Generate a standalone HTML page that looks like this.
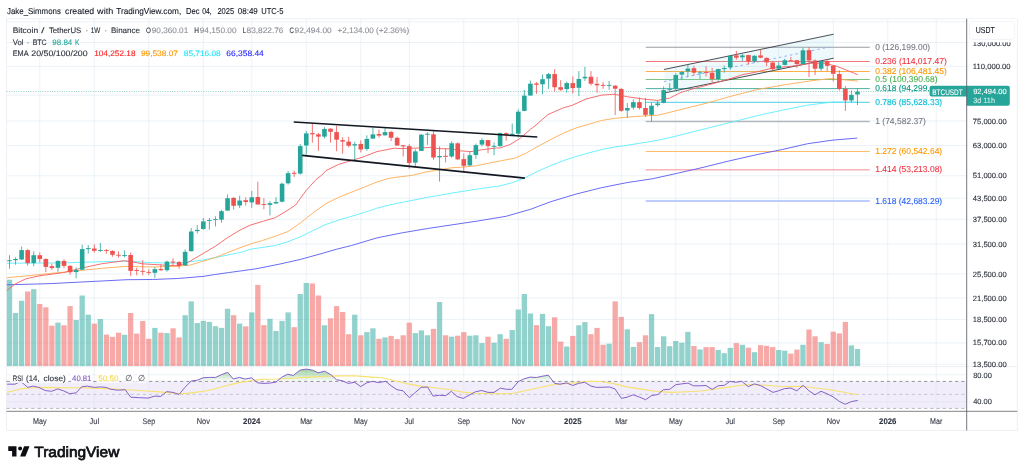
<!DOCTYPE html>
<html><head><meta charset="utf-8"><title>BTCUSDT chart</title>
<style>html,body{margin:0;padding:0;background:#fff;overflow:hidden}svg{display:block;will-change:transform;text-rendering:geometricPrecision}body{font-family:"Liberation Sans",sans-serif}</style></head>
<body>
<svg width="1024" height="473" viewBox="0 0 1024 473" font-family="'Liberation Sans', sans-serif">
<rect width="1024" height="473" fill="#fff"/>
<g stroke="#e2edf4" stroke-width="0.7" fill="none">
<path d="M39.79 18.8 V411.4"/>
<path d="M94.3 18.8 V411.4"/>
<path d="M148.81 18.8 V411.4"/>
<path d="M203.32 18.8 V411.4"/>
<path d="M251.78 18.8 V411.4"/>
<path d="M306.29 18.8 V411.4"/>
<path d="M360.81 18.8 V411.4"/>
<path d="M409.26 18.8 V411.4"/>
<path d="M463.78 18.8 V411.4"/>
<path d="M518.29 18.8 V411.4"/>
<path d="M572.8 18.8 V411.4"/>
<path d="M621.26 18.8 V411.4"/>
<path d="M675.77 18.8 V411.4"/>
<path d="M730.28 18.8 V411.4"/>
<path d="M778.74 18.8 V411.4"/>
<path d="M833.25 18.8 V411.4"/>
<path d="M887.77 18.8 V411.4"/>
<path d="M936.22 18.8 V411.4"/>
<path d="M6.5 21.8 H966.7"/>
<path d="M6.5 42.5 H966.7"/>
<path d="M6.5 66.4 H966.7"/>
<path d="M6.5 95.3 H966.7"/>
<path d="M6.5 121 H966.7"/>
<path d="M6.5 145.6 H966.7"/>
<path d="M6.5 175.7 H966.7"/>
<path d="M6.5 198.2 H966.7"/>
<path d="M6.5 219.3 H966.7"/>
<path d="M6.5 244 H966.7"/>
<path d="M6.5 273.9 H966.7"/>
<path d="M6.5 298 H966.7"/>
<path d="M6.5 319.4 H966.7"/>
<path d="M6.5 342.9 H966.7"/>
<path d="M6.5 364.3 H966.7"/>
<path d="M6.5 374.8 H966.7"/>
<path d="M6.5 401.6 H966.7"/>
</g>
<g stroke="#e6e9ef" stroke-width="0.7" fill="none">
<path d="M6.5 18.8 H1017.3 V430.4 H6.5 Z"/>
<path d="M6.5 366.6 H1017.3"/>
</g>
<g>
<rect x="6.85" y="279.7" width="5.3" height="86.3" fill="#26a69a" fill-opacity="0.5"/>
<rect x="12.91" y="313" width="5.3" height="53" fill="#26a69a" fill-opacity="0.5"/>
<rect x="18.96" y="300.8" width="5.3" height="65.2" fill="#26a69a" fill-opacity="0.5"/>
<rect x="25.02" y="291.5" width="5.3" height="74.5" fill="#ef5350" fill-opacity="0.5"/>
<rect x="31.08" y="289.2" width="5.3" height="76.8" fill="#26a69a" fill-opacity="0.5"/>
<rect x="37.14" y="304" width="5.3" height="62" fill="#ef5350" fill-opacity="0.5"/>
<rect x="43.19" y="307.3" width="5.3" height="58.7" fill="#ef5350" fill-opacity="0.5"/>
<rect x="49.25" y="325.7" width="5.3" height="40.3" fill="#ef5350" fill-opacity="0.5"/>
<rect x="55.31" y="322.6" width="5.3" height="43.4" fill="#26a69a" fill-opacity="0.5"/>
<rect x="61.36" y="325.3" width="5.3" height="40.7" fill="#ef5350" fill-opacity="0.5"/>
<rect x="67.42" y="306.1" width="5.3" height="59.9" fill="#ef5350" fill-opacity="0.5"/>
<rect x="73.48" y="320" width="5.3" height="46" fill="#26a69a" fill-opacity="0.5"/>
<rect x="79.53" y="295.5" width="5.3" height="70.5" fill="#26a69a" fill-opacity="0.5"/>
<rect x="85.59" y="314.7" width="5.3" height="51.3" fill="#26a69a" fill-opacity="0.5"/>
<rect x="91.65" y="323.6" width="5.3" height="42.4" fill="#ef5350" fill-opacity="0.5"/>
<rect x="97.7" y="319" width="5.3" height="47" fill="#26a69a" fill-opacity="0.5"/>
<rect x="103.76" y="334.6" width="5.3" height="31.4" fill="#ef5350" fill-opacity="0.5"/>
<rect x="109.82" y="336.9" width="5.3" height="29.1" fill="#ef5350" fill-opacity="0.5"/>
<rect x="115.88" y="332.7" width="5.3" height="33.3" fill="#ef5350" fill-opacity="0.5"/>
<rect x="121.93" y="334.8" width="5.3" height="31.2" fill="#26a69a" fill-opacity="0.5"/>
<rect x="127.99" y="313" width="5.3" height="53" fill="#ef5350" fill-opacity="0.5"/>
<rect x="134.05" y="333.6" width="5.3" height="32.4" fill="#ef5350" fill-opacity="0.5"/>
<rect x="140.1" y="321" width="5.3" height="45" fill="#ef5350" fill-opacity="0.5"/>
<rect x="146.16" y="338.8" width="5.3" height="27.2" fill="#ef5350" fill-opacity="0.5"/>
<rect x="152.22" y="327.9" width="5.3" height="38.1" fill="#26a69a" fill-opacity="0.5"/>
<rect x="158.28" y="332.7" width="5.3" height="33.3" fill="#ef5350" fill-opacity="0.5"/>
<rect x="164.33" y="333.1" width="5.3" height="32.9" fill="#26a69a" fill-opacity="0.5"/>
<rect x="170.39" y="328.3" width="5.3" height="37.7" fill="#ef5350" fill-opacity="0.5"/>
<rect x="176.45" y="337.4" width="5.3" height="28.6" fill="#ef5350" fill-opacity="0.5"/>
<rect x="182.5" y="315.2" width="5.3" height="50.8" fill="#26a69a" fill-opacity="0.5"/>
<rect x="188.56" y="301.4" width="5.3" height="64.6" fill="#26a69a" fill-opacity="0.5"/>
<rect x="194.62" y="323" width="5.3" height="43" fill="#26a69a" fill-opacity="0.5"/>
<rect x="200.67" y="320.9" width="5.3" height="45.1" fill="#26a69a" fill-opacity="0.5"/>
<rect x="206.73" y="321.9" width="5.3" height="44.1" fill="#26a69a" fill-opacity="0.5"/>
<rect x="212.79" y="326.2" width="5.3" height="39.8" fill="#26a69a" fill-opacity="0.5"/>
<rect x="218.84" y="327.9" width="5.3" height="38.1" fill="#26a69a" fill-opacity="0.5"/>
<rect x="224.9" y="308.8" width="5.3" height="57.2" fill="#26a69a" fill-opacity="0.5"/>
<rect x="230.96" y="315.2" width="5.3" height="50.8" fill="#ef5350" fill-opacity="0.5"/>
<rect x="237.02" y="323.6" width="5.3" height="42.4" fill="#26a69a" fill-opacity="0.5"/>
<rect x="243.07" y="326.4" width="5.3" height="39.6" fill="#ef5350" fill-opacity="0.5"/>
<rect x="249.13" y="312.4" width="5.3" height="53.6" fill="#26a69a" fill-opacity="0.5"/>
<rect x="255.19" y="284.9" width="5.3" height="81.1" fill="#ef5350" fill-opacity="0.5"/>
<rect x="261.24" y="325.1" width="5.3" height="40.9" fill="#ef5350" fill-opacity="0.5"/>
<rect x="267.3" y="318.8" width="5.3" height="47.2" fill="#26a69a" fill-opacity="0.5"/>
<rect x="273.36" y="331" width="5.3" height="35" fill="#26a69a" fill-opacity="0.5"/>
<rect x="279.42" y="320.9" width="5.3" height="45.1" fill="#26a69a" fill-opacity="0.5"/>
<rect x="285.47" y="312.4" width="5.3" height="53.6" fill="#26a69a" fill-opacity="0.5"/>
<rect x="291.53" y="327.2" width="5.3" height="38.8" fill="#ef5350" fill-opacity="0.5"/>
<rect x="297.59" y="294" width="5.3" height="72" fill="#26a69a" fill-opacity="0.5"/>
<rect x="303.64" y="283" width="5.3" height="83" fill="#26a69a" fill-opacity="0.5"/>
<rect x="309.7" y="283.5" width="5.3" height="82.5" fill="#ef5350" fill-opacity="0.5"/>
<rect x="315.76" y="295.5" width="5.3" height="70.5" fill="#ef5350" fill-opacity="0.5"/>
<rect x="321.81" y="325.3" width="5.3" height="40.7" fill="#26a69a" fill-opacity="0.5"/>
<rect x="327.87" y="318.3" width="5.3" height="47.7" fill="#ef5350" fill-opacity="0.5"/>
<rect x="333.93" y="306.1" width="5.3" height="59.9" fill="#ef5350" fill-opacity="0.5"/>
<rect x="339.99" y="312" width="5.3" height="54" fill="#ef5350" fill-opacity="0.5"/>
<rect x="346.04" y="334.2" width="5.3" height="31.8" fill="#ef5350" fill-opacity="0.5"/>
<rect x="352.1" y="314.7" width="5.3" height="51.3" fill="#26a69a" fill-opacity="0.5"/>
<rect x="358.16" y="335.3" width="5.3" height="30.7" fill="#ef5350" fill-opacity="0.5"/>
<rect x="364.21" y="332.1" width="5.3" height="33.9" fill="#26a69a" fill-opacity="0.5"/>
<rect x="370.27" y="328.3" width="5.3" height="37.7" fill="#26a69a" fill-opacity="0.5"/>
<rect x="376.33" y="338.8" width="5.3" height="27.2" fill="#ef5350" fill-opacity="0.5"/>
<rect x="382.38" y="337.4" width="5.3" height="28.6" fill="#26a69a" fill-opacity="0.5"/>
<rect x="388.44" y="335.9" width="5.3" height="30.1" fill="#ef5350" fill-opacity="0.5"/>
<rect x="394.5" y="339.1" width="5.3" height="26.9" fill="#ef5350" fill-opacity="0.5"/>
<rect x="400.56" y="335.3" width="5.3" height="30.7" fill="#ef5350" fill-opacity="0.5"/>
<rect x="406.61" y="322.6" width="5.3" height="43.4" fill="#ef5350" fill-opacity="0.5"/>
<rect x="412.67" y="333.1" width="5.3" height="32.9" fill="#26a69a" fill-opacity="0.5"/>
<rect x="418.73" y="330.4" width="5.3" height="35.6" fill="#26a69a" fill-opacity="0.5"/>
<rect x="424.78" y="335.3" width="5.3" height="30.7" fill="#26a69a" fill-opacity="0.5"/>
<rect x="430.84" y="328.9" width="5.3" height="37.1" fill="#ef5350" fill-opacity="0.5"/>
<rect x="436.9" y="302" width="5.3" height="64" fill="#26a69a" fill-opacity="0.5"/>
<rect x="442.95" y="335.3" width="5.3" height="30.7" fill="#ef5350" fill-opacity="0.5"/>
<rect x="449.01" y="336.7" width="5.3" height="29.3" fill="#26a69a" fill-opacity="0.5"/>
<rect x="455.07" y="335.7" width="5.3" height="30.3" fill="#ef5350" fill-opacity="0.5"/>
<rect x="461.13" y="332.1" width="5.3" height="33.9" fill="#ef5350" fill-opacity="0.5"/>
<rect x="467.18" y="335.7" width="5.3" height="30.3" fill="#26a69a" fill-opacity="0.5"/>
<rect x="473.24" y="335.3" width="5.3" height="30.7" fill="#26a69a" fill-opacity="0.5"/>
<rect x="479.3" y="343.1" width="5.3" height="22.9" fill="#26a69a" fill-opacity="0.5"/>
<rect x="485.35" y="336.7" width="5.3" height="29.3" fill="#ef5350" fill-opacity="0.5"/>
<rect x="491.41" y="342.7" width="5.3" height="23.3" fill="#26a69a" fill-opacity="0.5"/>
<rect x="497.47" y="334.2" width="5.3" height="31.8" fill="#26a69a" fill-opacity="0.5"/>
<rect x="503.52" y="338.8" width="5.3" height="27.2" fill="#ef5350" fill-opacity="0.5"/>
<rect x="509.58" y="330" width="5.3" height="36" fill="#26a69a" fill-opacity="0.5"/>
<rect x="515.64" y="309.5" width="5.3" height="56.5" fill="#26a69a" fill-opacity="0.5"/>
<rect x="521.7" y="294" width="5.3" height="72" fill="#26a69a" fill-opacity="0.5"/>
<rect x="527.75" y="313.5" width="5.3" height="52.5" fill="#26a69a" fill-opacity="0.5"/>
<rect x="533.81" y="325.1" width="5.3" height="40.9" fill="#ef5350" fill-opacity="0.5"/>
<rect x="539.87" y="313.9" width="5.3" height="52.1" fill="#26a69a" fill-opacity="0.5"/>
<rect x="545.92" y="326.2" width="5.3" height="39.8" fill="#26a69a" fill-opacity="0.5"/>
<rect x="551.98" y="317.3" width="5.3" height="48.7" fill="#ef5350" fill-opacity="0.5"/>
<rect x="558.04" y="341.6" width="5.3" height="24.4" fill="#ef5350" fill-opacity="0.5"/>
<rect x="564.09" y="346.5" width="5.3" height="19.5" fill="#26a69a" fill-opacity="0.5"/>
<rect x="570.15" y="335.9" width="5.3" height="30.1" fill="#ef5350" fill-opacity="0.5"/>
<rect x="576.21" y="325.3" width="5.3" height="40.7" fill="#26a69a" fill-opacity="0.5"/>
<rect x="582.27" y="322.1" width="5.3" height="43.9" fill="#26a69a" fill-opacity="0.5"/>
<rect x="588.32" y="334.2" width="5.3" height="31.8" fill="#ef5350" fill-opacity="0.5"/>
<rect x="594.38" y="327.9" width="5.3" height="38.1" fill="#ef5350" fill-opacity="0.5"/>
<rect x="600.44" y="344.8" width="5.3" height="21.2" fill="#ef5350" fill-opacity="0.5"/>
<rect x="606.49" y="343.7" width="5.3" height="22.3" fill="#26a69a" fill-opacity="0.5"/>
<rect x="612.55" y="301.4" width="5.3" height="64.6" fill="#ef5350" fill-opacity="0.5"/>
<rect x="618.61" y="316.9" width="5.3" height="49.1" fill="#ef5350" fill-opacity="0.5"/>
<rect x="624.66" y="329.3" width="5.3" height="36.7" fill="#26a69a" fill-opacity="0.5"/>
<rect x="630.72" y="346.9" width="5.3" height="19.1" fill="#26a69a" fill-opacity="0.5"/>
<rect x="636.78" y="342.2" width="5.3" height="23.8" fill="#ef5350" fill-opacity="0.5"/>
<rect x="642.84" y="335.3" width="5.3" height="30.7" fill="#ef5350" fill-opacity="0.5"/>
<rect x="648.89" y="314.1" width="5.3" height="51.9" fill="#26a69a" fill-opacity="0.5"/>
<rect x="654.95" y="347.1" width="5.3" height="18.9" fill="#26a69a" fill-opacity="0.5"/>
<rect x="661.01" y="336.3" width="5.3" height="29.7" fill="#26a69a" fill-opacity="0.5"/>
<rect x="667.06" y="346.2" width="5.3" height="19.8" fill="#26a69a" fill-opacity="0.5"/>
<rect x="673.12" y="341" width="5.3" height="25" fill="#26a69a" fill-opacity="0.5"/>
<rect x="679.18" y="342.7" width="5.3" height="23.3" fill="#26a69a" fill-opacity="0.5"/>
<rect x="685.23" y="331.9" width="5.3" height="34.1" fill="#26a69a" fill-opacity="0.5"/>
<rect x="691.29" y="346" width="5.3" height="20" fill="#ef5350" fill-opacity="0.5"/>
<rect x="697.35" y="349.4" width="5.3" height="16.6" fill="#26a69a" fill-opacity="0.5"/>
<rect x="703.41" y="347.1" width="5.3" height="18.9" fill="#ef5350" fill-opacity="0.5"/>
<rect x="709.46" y="347.1" width="5.3" height="18.9" fill="#ef5350" fill-opacity="0.5"/>
<rect x="715.52" y="350" width="5.3" height="16" fill="#26a69a" fill-opacity="0.5"/>
<rect x="721.58" y="353.2" width="5.3" height="12.8" fill="#26a69a" fill-opacity="0.5"/>
<rect x="727.63" y="347.9" width="5.3" height="18.1" fill="#26a69a" fill-opacity="0.5"/>
<rect x="733.69" y="343.1" width="5.3" height="22.9" fill="#ef5350" fill-opacity="0.5"/>
<rect x="739.75" y="344.8" width="5.3" height="21.2" fill="#26a69a" fill-opacity="0.5"/>
<rect x="745.8" y="347.7" width="5.3" height="18.3" fill="#ef5350" fill-opacity="0.5"/>
<rect x="751.86" y="352.2" width="5.3" height="13.8" fill="#26a69a" fill-opacity="0.5"/>
<rect x="757.92" y="345.2" width="5.3" height="20.8" fill="#ef5350" fill-opacity="0.5"/>
<rect x="763.98" y="345.8" width="5.3" height="20.2" fill="#ef5350" fill-opacity="0.5"/>
<rect x="770.03" y="347.1" width="5.3" height="18.9" fill="#ef5350" fill-opacity="0.5"/>
<rect x="776.09" y="350" width="5.3" height="16" fill="#26a69a" fill-opacity="0.5"/>
<rect x="782.15" y="350.7" width="5.3" height="15.3" fill="#26a69a" fill-opacity="0.5"/>
<rect x="788.2" y="353.6" width="5.3" height="12.4" fill="#ef5350" fill-opacity="0.5"/>
<rect x="794.26" y="349.6" width="5.3" height="16.4" fill="#ef5350" fill-opacity="0.5"/>
<rect x="800.32" y="344.8" width="5.3" height="21.2" fill="#26a69a" fill-opacity="0.5"/>
<rect x="806.37" y="329.5" width="5.3" height="36.5" fill="#ef5350" fill-opacity="0.5"/>
<rect x="812.43" y="336.3" width="5.3" height="29.7" fill="#ef5350" fill-opacity="0.5"/>
<rect x="818.49" y="342.2" width="5.3" height="23.8" fill="#26a69a" fill-opacity="0.5"/>
<rect x="824.55" y="343.9" width="5.3" height="22.1" fill="#ef5350" fill-opacity="0.5"/>
<rect x="830.6" y="331.7" width="5.3" height="34.3" fill="#ef5350" fill-opacity="0.5"/>
<rect x="836.66" y="333.4" width="5.3" height="32.6" fill="#ef5350" fill-opacity="0.5"/>
<rect x="842.72" y="321.9" width="5.3" height="44.1" fill="#ef5350" fill-opacity="0.5"/>
<rect x="848.77" y="345.4" width="5.3" height="20.6" fill="#26a69a" fill-opacity="0.5"/>
<rect x="854.83" y="349" width="5.3" height="17" fill="#26a69a" fill-opacity="0.5"/>
</g>
<path d="M645.7 47.2 H869.8" stroke="#9a9da6" stroke-width="1.1"/>
<path d="M645.7 61.5 H869.8" stroke="#f26a70" stroke-width="0.9"/>
<path d="M645.7 71.5 H869.8" stroke="#ffa534" stroke-width="0.9"/>
<path d="M645.7 79.5 H869.8" stroke="#6dbd71" stroke-width="0.9"/>
<path d="M645.7 88.6 H869.8" stroke="#3aa898" stroke-width="0.9"/>
<path d="M645.7 102.3 H869.8" stroke="#3cc8dc" stroke-width="0.9"/>
<path d="M645.7 121.6 H869.8" stroke="#b5b7be" stroke-width="1.5"/>
<path d="M645.7 151.5 H869.8" stroke="#ffb75a" stroke-width="0.9"/>
<path d="M645.7 169.8 H869.8" stroke="#f8b4b8" stroke-width="1.6"/>
<path d="M645.7 201 H869.8" stroke="#a9bcff" stroke-width="1.6"/>
<polygon points="663.9,69.5 833.7,34.2 833.7,58.2 665.8,92.7" fill="#7fcfe6" fill-opacity="0.13"/>
<path d="M663.9 81.6 L828.9 47.1" stroke="#7d97ff" stroke-width="0.8" stroke-dasharray="2.4 3.2" fill="none"/>
<path d="M663.9 69.5 L833.7 34.2 M665.8 92.7 L833.7 58.2" stroke="#2a2e39" stroke-width="0.85" fill="none"/>
<polyline points="6.85,284.8 50.8,283.6 76.1,282.3 101.5,281 127,279.7 152.3,279.5 177.7,278.5 203,276.4 215.7,274.4 228.4,272.6 241.1,270.9 256,268.8 280,264 300,259.5 320,254 336.3,249.3 351.5,245.5 376.9,237.9 402.3,232.8 427.7,228.5 453,224.7 478.4,220.9 506,216.3 530.5,209.3 550.8,201.7 576,194.1 601.5,187.7 627,182.6 652.3,178.8 677.7,173.2 703,167.4 728.4,161.1 757,154.6 782.3,149.5 807.7,143.7 833,140.1 857.2,138.1" fill="none" stroke="#5a5af5" stroke-width="0.9" stroke-linejoin="round"/>
<polyline points="6.85,263.2 50.8,263 76.1,262.5 101.5,261.7 127,261.2 152.3,262.7 177.7,263.2 190.4,261.7 203,260 215.7,257.4 228.4,254.9 241.1,252.3 250,249.3 275.4,245.5 288,241.7 300.8,236.6 313.5,230.3 326,224.4 338.8,220.1 351.5,216.3 364.2,212.5 376.9,208.2 389.6,204.9 402.3,202.3 427.7,197.3 453,192.9 478.4,188.9 500,185.9 512.7,182.6 525.4,177.6 538,171.2 550.8,165.6 563.5,160.6 576,156.5 588.8,152.9 601.5,149.6 614.2,147.1 627,145.3 639.6,143.3 652.3,141.3 665,138.7 677.7,135.7 703,129.3 728.4,123 757,115.7 782.3,110.2 807.7,105.1 833,102 857.5,102.2" fill="none" stroke="#5ceeff" stroke-width="0.9" stroke-linejoin="round"/>
<polyline points="6.85,277.7 25.4,276 50.8,273.4 76.1,270.9 101.5,268.3 127,266.3 152.3,267 177.7,266.3 190.4,265 203,261.2 215.7,257.4 228.4,252.3 241.1,247.3 250,244.2 262.7,240.4 275.4,236.1 288,231.5 300.8,222.6 313.5,212.5 326,203.6 338.8,197.3 351.5,192.2 364.2,187.1 376.9,182 389.6,178.2 400,176.8 412.7,175.3 425.4,172.1 438,170 450.8,167.9 463.5,167 476,165.8 488.8,163.2 501.5,160.7 515.2,158 525.4,153.5 538,146.3 550.8,139.5 563.5,133.1 576,128 588.8,124.2 601.5,120.5 614.2,118.4 627.7,117.1 645.5,115.8 658.1,115.2 675.9,110.8 691.1,107 708.9,102.5 726.7,97.4 743,93.2 756.6,89.6 785.8,84.6 811,80.8 830,78.6 842.9,79.7 857.8,81" fill="none" stroke="#ffab52" stroke-width="0.9" stroke-linejoin="round"/>
<polyline points="6.85,290.4 15.2,284 25.4,279 38,276 63.5,272.6 83.8,267.6 101.5,263.8 124.4,260.7 132,261.7 142,263.8 162.4,265 177.7,265.8 187.8,262.5 203,253.6 215.7,246 228.4,237.1 241.1,229.5 250,225.2 262.7,221.4 275.4,217.6 288,210 295.7,204.9 305.8,190.9 316,179.5 321.9,175 326,170.6 338.8,164.3 354.5,159.7 364.2,156.6 376.9,151.6 394.2,148.2 400,148.6 419,148 430.5,147.4 438,148.6 450.8,148.9 461,150.9 471,151.6 482.5,149.7 496.4,148 500,147.9 510,144.6 520.3,138.2 530.5,129.3 536,125 548,114.5 563.5,107.8 572,105.4 586,99 601.4,95.2 614,94.2 627.7,96.8 645.5,99.3 657.5,100.4 669.6,98.1 681,92.4 693.7,88.6 711.4,84.1 729.2,79 743,74.6 754,72.5 773,68 792,66.2 811,63.2 824,63.2 836.5,66.2 849.2,71.2 857.8,74.7" fill="none" stroke="#f56060" stroke-width="0.9" stroke-linejoin="round"/>
<path d="M6.5 91.4 H966.7" stroke="#26a69a" stroke-width="0.8" stroke-dasharray="1 1.4" opacity="0.75"/>
<g>
<path d="M9.5 255.2 V268.8" stroke="#26a69a" stroke-width="0.8"/>
<rect x="7.2" y="260.2" width="4.6" height="1" fill="#26a69a"/>
<path d="M15.56 257.4 V264.7" stroke="#26a69a" stroke-width="0.8"/>
<rect x="13.26" y="259" width="4.6" height="1.2" fill="#26a69a"/>
<path d="M21.61 246.6 V259.9" stroke="#26a69a" stroke-width="0.8"/>
<rect x="19.31" y="250.1" width="4.6" height="9.4" fill="#26a69a"/>
<path d="M27.67 249.1 V265.6" stroke="#ef5350" stroke-width="0.8"/>
<rect x="25.37" y="250.1" width="4.6" height="13" fill="#ef5350"/>
<path d="M33.73 251.3 V266.2" stroke="#26a69a" stroke-width="0.8"/>
<rect x="31.43" y="255.2" width="4.6" height="7.9" fill="#26a69a"/>
<path d="M39.79 252.3 V262.4" stroke="#ef5350" stroke-width="0.8"/>
<rect x="37.49" y="255.2" width="4.6" height="3.8" fill="#ef5350"/>
<path d="M45.84 258.2 V272.2" stroke="#ef5350" stroke-width="0.8"/>
<rect x="43.54" y="259" width="4.6" height="7.9" fill="#ef5350"/>
<path d="M51.9 263.7 V269.7" stroke="#ef5350" stroke-width="0.8"/>
<rect x="49.6" y="266.2" width="4.6" height="1.9" fill="#ef5350"/>
<path d="M57.96 260.3 V271.7" stroke="#26a69a" stroke-width="0.8"/>
<rect x="55.66" y="260.9" width="4.6" height="6.9" fill="#26a69a"/>
<path d="M64.01 259.3 V268.1" stroke="#ef5350" stroke-width="0.8"/>
<rect x="61.71" y="260.9" width="4.6" height="5" fill="#ef5350"/>
<path d="M70.07 265 V274.7" stroke="#ef5350" stroke-width="0.8"/>
<rect x="67.77" y="265.9" width="4.6" height="6.3" fill="#ef5350"/>
<path d="M76.13 267.5 V278.3" stroke="#26a69a" stroke-width="0.8"/>
<rect x="73.83" y="270.1" width="4.6" height="1.9" fill="#26a69a"/>
<path d="M82.18 244.7 V270.1" stroke="#26a69a" stroke-width="0.8"/>
<rect x="79.88" y="249.1" width="4.6" height="20.6" fill="#26a69a"/>
<path d="M88.24 245.1 V253.6" stroke="#26a69a" stroke-width="0.8"/>
<rect x="85.94" y="248.1" width="4.6" height="1" fill="#26a69a"/>
<path d="M94.3 244.3 V252.7" stroke="#ef5350" stroke-width="0.8"/>
<rect x="92" y="248.5" width="4.6" height="2.3" fill="#ef5350"/>
<path d="M100.36 243.1 V251.9" stroke="#26a69a" stroke-width="0.8"/>
<rect x="98.06" y="250.1" width="4.6" height="0.9" fill="#26a69a"/>
<path d="M106.41 249.1 V253.6" stroke="#ef5350" stroke-width="0.8"/>
<rect x="104.11" y="250.1" width="4.6" height="0.9" fill="#ef5350"/>
<path d="M112.47 250.4 V256.7" stroke="#ef5350" stroke-width="0.8"/>
<rect x="110.17" y="250.9" width="4.6" height="3.9" fill="#ef5350"/>
<path d="M118.53 251.4 V257.7" stroke="#ef5350" stroke-width="0.8"/>
<rect x="116.23" y="254.8" width="4.6" height="0.9" fill="#ef5350"/>
<path d="M124.58 250.4 V257.4" stroke="#26a69a" stroke-width="0.8"/>
<rect x="122.28" y="255.1" width="4.6" height="0.9" fill="#26a69a"/>
<path d="M130.64 252.5 V275.9" stroke="#ef5350" stroke-width="0.8"/>
<rect x="128.34" y="255" width="4.6" height="15.9" fill="#ef5350"/>
<path d="M136.7 267.7 V275.3" stroke="#ef5350" stroke-width="0.8"/>
<rect x="134.4" y="270" width="4.6" height="0.9" fill="#ef5350"/>
<path d="M142.75 260.1 V275.3" stroke="#ef5350" stroke-width="0.8"/>
<rect x="140.45" y="270.9" width="4.6" height="0.9" fill="#ef5350"/>
<path d="M148.81 269.2 V275" stroke="#ef5350" stroke-width="0.8"/>
<rect x="146.51" y="271.9" width="4.6" height="0.9" fill="#ef5350"/>
<path d="M154.87 267.1 V277.8" stroke="#26a69a" stroke-width="0.8"/>
<rect x="152.57" y="269.2" width="4.6" height="3.6" fill="#26a69a"/>
<path d="M160.93 264.5 V270.9" stroke="#ef5350" stroke-width="0.8"/>
<rect x="158.62" y="269" width="4.6" height="1.2" fill="#ef5350"/>
<path d="M166.98 260.7 V271.7" stroke="#26a69a" stroke-width="0.8"/>
<rect x="164.68" y="261.6" width="4.6" height="8.6" fill="#26a69a"/>
<path d="M173.04 258.2 V265.1" stroke="#ef5350" stroke-width="0.8"/>
<rect x="170.74" y="261.6" width="4.6" height="1" fill="#ef5350"/>
<path d="M179.1 261.1 V268.7" stroke="#ef5350" stroke-width="0.8"/>
<rect x="176.8" y="262" width="4.6" height="3.8" fill="#ef5350"/>
<path d="M185.15 249.3 V265.8" stroke="#26a69a" stroke-width="0.8"/>
<rect x="182.85" y="251.8" width="4.6" height="13.6" fill="#26a69a"/>
<path d="M191.21 228.1 V251.4" stroke="#26a69a" stroke-width="0.8"/>
<rect x="188.91" y="231.5" width="4.6" height="19.7" fill="#26a69a"/>
<path d="M197.27 225.2 V233.4" stroke="#26a69a" stroke-width="0.8"/>
<rect x="194.97" y="229.9" width="4.6" height="1.2" fill="#26a69a"/>
<path d="M203.32 218 V229.6" stroke="#26a69a" stroke-width="0.8"/>
<rect x="201.02" y="221.4" width="4.6" height="7.6" fill="#26a69a"/>
<path d="M209.38 218 V229.6" stroke="#26a69a" stroke-width="0.8"/>
<rect x="207.08" y="220.1" width="4.6" height="0.9" fill="#26a69a"/>
<path d="M215.44 216.3 V226.5" stroke="#26a69a" stroke-width="0.8"/>
<rect x="213.14" y="219" width="4.6" height="0.9" fill="#26a69a"/>
<path d="M221.5 210 V222.7" stroke="#26a69a" stroke-width="0.8"/>
<rect x="219.19" y="211.2" width="4.6" height="8.5" fill="#26a69a"/>
<path d="M227.55 194.4 V210.9" stroke="#26a69a" stroke-width="0.8"/>
<rect x="225.25" y="198.2" width="4.6" height="12.4" fill="#26a69a"/>
<path d="M233.61 196.9 V209.6" stroke="#ef5350" stroke-width="0.8"/>
<rect x="231.31" y="197.9" width="4.6" height="7.9" fill="#ef5350"/>
<path d="M239.67 195.8 V208.1" stroke="#26a69a" stroke-width="0.8"/>
<rect x="237.37" y="200.5" width="4.6" height="5" fill="#26a69a"/>
<path d="M245.72 197.3 V205.5" stroke="#ef5350" stroke-width="0.8"/>
<rect x="243.42" y="200.2" width="4.6" height="1.8" fill="#ef5350"/>
<path d="M251.78 190.9 V207.8" stroke="#26a69a" stroke-width="0.8"/>
<rect x="249.48" y="197.3" width="4.6" height="5.1" fill="#26a69a"/>
<path d="M257.84 181.7 V204.5" stroke="#ef5350" stroke-width="0.8"/>
<rect x="255.54" y="197" width="4.6" height="7.5" fill="#ef5350"/>
<path d="M263.89 198.2 V209.3" stroke="#ef5350" stroke-width="0.8"/>
<rect x="261.59" y="204" width="4.6" height="0.9" fill="#ef5350"/>
<path d="M269.95 201.1 V215.4" stroke="#26a69a" stroke-width="0.8"/>
<rect x="267.65" y="203.2" width="4.6" height="1.7" fill="#26a69a"/>
<path d="M276.01 197.3 V203.6" stroke="#26a69a" stroke-width="0.8"/>
<rect x="273.71" y="202" width="4.6" height="1.5" fill="#26a69a"/>
<path d="M282.06 182.7 V202.4" stroke="#26a69a" stroke-width="0.8"/>
<rect x="279.76" y="183.7" width="4.6" height="18" fill="#26a69a"/>
<path d="M288.12 171 V184.6" stroke="#26a69a" stroke-width="0.8"/>
<rect x="285.82" y="173.2" width="4.6" height="10.1" fill="#26a69a"/>
<path d="M294.18 170.6 V177" stroke="#ef5350" stroke-width="0.8"/>
<rect x="291.88" y="172.8" width="4.6" height="1" fill="#ef5350"/>
<path d="M300.24 143.9 V174.6" stroke="#26a69a" stroke-width="0.8"/>
<rect x="297.94" y="146.1" width="4.6" height="27.5" fill="#26a69a"/>
<path d="M306.29 130.9 V154.6" stroke="#26a69a" stroke-width="0.8"/>
<rect x="303.99" y="133.4" width="4.6" height="12.1" fill="#26a69a"/>
<path d="M312.35 123.6 V142.7" stroke="#ef5350" stroke-width="0.8"/>
<rect x="310.05" y="133.1" width="4.6" height="1.2" fill="#ef5350"/>
<path d="M318.41 133 V150.8" stroke="#ef5350" stroke-width="0.8"/>
<rect x="316.11" y="134.3" width="4.6" height="2.3" fill="#ef5350"/>
<path d="M324.46 127.1 V138.5" stroke="#26a69a" stroke-width="0.8"/>
<rect x="322.16" y="129" width="4.6" height="7.6" fill="#26a69a"/>
<path d="M330.52 128.3 V142.7" stroke="#ef5350" stroke-width="0.8"/>
<rect x="328.22" y="128.7" width="4.6" height="3.1" fill="#ef5350"/>
<path d="M336.58 125.8 V151.2" stroke="#ef5350" stroke-width="0.8"/>
<rect x="334.28" y="132.1" width="4.6" height="7.6" fill="#ef5350"/>
<path d="M342.64 137.2 V153.7" stroke="#ef5350" stroke-width="0.8"/>
<rect x="340.34" y="140.1" width="4.6" height="1.5" fill="#ef5350"/>
<path d="M348.69 136.8 V147.4" stroke="#ef5350" stroke-width="0.8"/>
<rect x="346.39" y="141.6" width="4.6" height="4.1" fill="#ef5350"/>
<path d="M354.75 141.9 V160.7" stroke="#26a69a" stroke-width="0.8"/>
<rect x="352.45" y="144.2" width="4.6" height="1.3" fill="#26a69a"/>
<path d="M360.81 140.4 V152.4" stroke="#ef5350" stroke-width="0.8"/>
<rect x="358.51" y="143.9" width="4.6" height="5.6" fill="#ef5350"/>
<path d="M366.86 135.3 V150.8" stroke="#26a69a" stroke-width="0.8"/>
<rect x="364.56" y="138.9" width="4.6" height="10.1" fill="#26a69a"/>
<path d="M372.92 127.7 V138.9" stroke="#26a69a" stroke-width="0.8"/>
<rect x="370.62" y="134.4" width="4.6" height="4.2" fill="#26a69a"/>
<path d="M378.98 129.6 V137.6" stroke="#ef5350" stroke-width="0.8"/>
<rect x="376.68" y="134" width="4.6" height="1.6" fill="#ef5350"/>
<path d="M385.03 127.7 V135.6" stroke="#26a69a" stroke-width="0.8"/>
<rect x="382.73" y="132.1" width="4.6" height="3.2" fill="#26a69a"/>
<path d="M391.09 130.9 V141" stroke="#ef5350" stroke-width="0.8"/>
<rect x="388.79" y="131.9" width="4.6" height="5.9" fill="#ef5350"/>
<path d="M397.15 136.6 V145.7" stroke="#ef5350" stroke-width="0.8"/>
<rect x="394.85" y="137.8" width="4.6" height="7.7" fill="#ef5350"/>
<path d="M403.21 145.1 V156.5" stroke="#ef5350" stroke-width="0.8"/>
<rect x="400.91" y="145.2" width="4.6" height="1.2" fill="#ef5350"/>
<path d="M409.26 144.2 V168.7" stroke="#ef5350" stroke-width="0.8"/>
<rect x="406.96" y="146.1" width="4.6" height="16.8" fill="#ef5350"/>
<path d="M415.32 149.3 V166.7" stroke="#26a69a" stroke-width="0.8"/>
<rect x="413.02" y="151.4" width="4.6" height="11.2" fill="#26a69a"/>
<path d="M421.38 134.1 V150.9" stroke="#26a69a" stroke-width="0.8"/>
<rect x="419.08" y="134.7" width="4.6" height="16.2" fill="#26a69a"/>
<path d="M427.43 132.2 V144.8" stroke="#26a69a" stroke-width="0.8"/>
<rect x="425.13" y="133.8" width="4.6" height="0.9" fill="#26a69a"/>
<path d="M433.49 131.1 V159.8" stroke="#ef5350" stroke-width="0.8"/>
<rect x="431.19" y="134.3" width="4.6" height="23.2" fill="#ef5350"/>
<path d="M439.55 146.4 V181.6" stroke="#26a69a" stroke-width="0.8"/>
<rect x="437.25" y="156" width="4.6" height="1.3" fill="#26a69a"/>
<path d="M445.6 148.4 V162.4" stroke="#ef5350" stroke-width="0.8"/>
<rect x="443.3" y="155.8" width="4.6" height="1" fill="#ef5350"/>
<path d="M451.66 141.3 V157.8" stroke="#26a69a" stroke-width="0.8"/>
<rect x="449.36" y="143.3" width="4.6" height="13.2" fill="#26a69a"/>
<path d="M457.72 142.3 V159.8" stroke="#ef5350" stroke-width="0.8"/>
<rect x="455.42" y="143.3" width="4.6" height="16.1" fill="#ef5350"/>
<path d="M463.78 153.5 V171.2" stroke="#ef5350" stroke-width="0.8"/>
<rect x="461.48" y="159.1" width="4.6" height="6.7" fill="#ef5350"/>
<path d="M469.83 151.4 V166.2" stroke="#26a69a" stroke-width="0.8"/>
<rect x="467.53" y="155.2" width="4.6" height="10.2" fill="#26a69a"/>
<path d="M475.89 143.6 V158.8" stroke="#26a69a" stroke-width="0.8"/>
<rect x="473.59" y="145.1" width="4.6" height="9.9" fill="#26a69a"/>
<path d="M481.95 138.2 V146.4" stroke="#26a69a" stroke-width="0.8"/>
<rect x="479.65" y="140.1" width="4.6" height="4.5" fill="#26a69a"/>
<path d="M488 139.8 V153.1" stroke="#ef5350" stroke-width="0.8"/>
<rect x="485.7" y="140.1" width="4.6" height="6" fill="#ef5350"/>
<path d="M494.06 142.3 V155.2" stroke="#26a69a" stroke-width="0.8"/>
<rect x="491.76" y="145.9" width="4.6" height="0.9" fill="#26a69a"/>
<path d="M500.12 132.4 V146.7" stroke="#26a69a" stroke-width="0.8"/>
<rect x="497.82" y="133.2" width="4.6" height="12.9" fill="#26a69a"/>
<path d="M506.17 132.2 V140.8" stroke="#ef5350" stroke-width="0.8"/>
<rect x="503.87" y="133.2" width="4.6" height="1.5" fill="#ef5350"/>
<path d="M512.23 123.5 V135.7" stroke="#26a69a" stroke-width="0.8"/>
<rect x="509.93" y="133.8" width="4.6" height="1.1" fill="#26a69a"/>
<path d="M518.29 109.4 V137.5" stroke="#26a69a" stroke-width="0.8"/>
<rect x="515.99" y="111.7" width="4.6" height="22" fill="#26a69a"/>
<path d="M524.35 90.1 V111.3" stroke="#26a69a" stroke-width="0.8"/>
<rect x="522.05" y="95.7" width="4.6" height="15.2" fill="#26a69a"/>
<path d="M530.4 80.5 V95.7" stroke="#26a69a" stroke-width="0.8"/>
<rect x="528.1" y="83.7" width="4.6" height="11.8" fill="#26a69a"/>
<path d="M536.46 82.1 V93.9" stroke="#ef5350" stroke-width="0.8"/>
<rect x="534.16" y="83.4" width="4.6" height="1.3" fill="#ef5350"/>
<path d="M542.52 74.5 V94.2" stroke="#26a69a" stroke-width="0.8"/>
<rect x="540.22" y="79.2" width="4.6" height="5.1" fill="#26a69a"/>
<path d="M548.57 72.9 V88.9" stroke="#26a69a" stroke-width="0.8"/>
<rect x="546.27" y="74.1" width="4.6" height="4.5" fill="#26a69a"/>
<path d="M554.63 69.1 V91.6" stroke="#ef5350" stroke-width="0.8"/>
<rect x="552.33" y="74.1" width="4.6" height="13.1" fill="#ef5350"/>
<path d="M560.69 80.2 V91" stroke="#ef5350" stroke-width="0.8"/>
<rect x="558.39" y="87.2" width="4.6" height="2.5" fill="#ef5350"/>
<path d="M566.74 81.5 V92.7" stroke="#26a69a" stroke-width="0.8"/>
<rect x="564.44" y="83.1" width="4.6" height="6" fill="#26a69a"/>
<path d="M572.8 76.4 V93.6" stroke="#ef5350" stroke-width="0.8"/>
<rect x="570.5" y="83.1" width="4.6" height="5" fill="#ef5350"/>
<path d="M578.86 71.1 V96.1" stroke="#26a69a" stroke-width="0.8"/>
<rect x="576.56" y="79" width="4.6" height="8.8" fill="#26a69a"/>
<path d="M584.92 66.9 V80.9" stroke="#26a69a" stroke-width="0.8"/>
<rect x="582.62" y="76.8" width="4.6" height="1.5" fill="#26a69a"/>
<path d="M590.97 71.1 V85.6" stroke="#ef5350" stroke-width="0.8"/>
<rect x="588.67" y="76.7" width="4.6" height="7" fill="#ef5350"/>
<path d="M597.03 77.1 V92.7" stroke="#ef5350" stroke-width="0.8"/>
<rect x="594.73" y="83.8" width="4.6" height="1.5" fill="#ef5350"/>
<path d="M603.09 82.1 V88.9" stroke="#ef5350" stroke-width="0.8"/>
<rect x="600.79" y="84.9" width="4.6" height="0.9" fill="#ef5350"/>
<path d="M609.14 80.9 V89.7" stroke="#26a69a" stroke-width="0.8"/>
<rect x="606.84" y="84.9" width="4.6" height="0.9" fill="#26a69a"/>
<path d="M615.2 85.1 V115.1" stroke="#ef5350" stroke-width="0.8"/>
<rect x="612.9" y="85.7" width="4.6" height="3" fill="#ef5350"/>
<path d="M621.26 88.2 V111.8" stroke="#ef5350" stroke-width="0.8"/>
<rect x="618.96" y="88.9" width="4.6" height="21.9" fill="#ef5350"/>
<path d="M627.31 103.1 V117.7" stroke="#26a69a" stroke-width="0.8"/>
<rect x="625.01" y="108" width="4.6" height="2.5" fill="#26a69a"/>
<path d="M633.37 99.3 V109.7" stroke="#26a69a" stroke-width="0.8"/>
<rect x="631.07" y="102.1" width="4.6" height="5.5" fill="#26a69a"/>
<path d="M639.43 97.4 V109.5" stroke="#ef5350" stroke-width="0.8"/>
<rect x="637.13" y="102.1" width="4.6" height="5.9" fill="#ef5350"/>
<path d="M645.49 97.8 V116.9" stroke="#ef5350" stroke-width="0.8"/>
<rect x="643.19" y="108" width="4.6" height="6.8" fill="#ef5350"/>
<path d="M651.54 102.5 V121.6" stroke="#26a69a" stroke-width="0.8"/>
<rect x="649.24" y="105.7" width="4.6" height="9.1" fill="#26a69a"/>
<path d="M657.6 100.6 V106.7" stroke="#26a69a" stroke-width="0.8"/>
<rect x="655.3" y="103.5" width="4.6" height="1.6" fill="#26a69a"/>
<path d="M663.66 86.4 V103.4" stroke="#26a69a" stroke-width="0.8"/>
<rect x="661.36" y="90.1" width="4.6" height="12.7" fill="#26a69a"/>
<path d="M669.71 83.1 V91.7" stroke="#26a69a" stroke-width="0.8"/>
<rect x="667.41" y="89.2" width="4.6" height="0.9" fill="#26a69a"/>
<path d="M675.77 73.3 V91.1" stroke="#26a69a" stroke-width="0.8"/>
<rect x="673.47" y="75" width="4.6" height="13.6" fill="#26a69a"/>
<path d="M681.83 71.2 V79.7" stroke="#26a69a" stroke-width="0.8"/>
<rect x="679.53" y="72.1" width="4.6" height="2.5" fill="#26a69a"/>
<path d="M687.88 64.4 V77.1" stroke="#26a69a" stroke-width="0.8"/>
<rect x="685.58" y="68.6" width="4.6" height="2.8" fill="#26a69a"/>
<path d="M693.94 65.7 V75.9" stroke="#ef5350" stroke-width="0.8"/>
<rect x="691.64" y="68.2" width="4.6" height="4.5" fill="#ef5350"/>
<path d="M700 71.2 V79" stroke="#26a69a" stroke-width="0.8"/>
<rect x="697.7" y="72.4" width="4.6" height="0.9" fill="#26a69a"/>
<path d="M706.06 66.1 V76.5" stroke="#ef5350" stroke-width="0.8"/>
<rect x="703.76" y="72.1" width="4.6" height="0.9" fill="#ef5350"/>
<path d="M712.11 67.9 V82.6" stroke="#ef5350" stroke-width="0.8"/>
<rect x="709.81" y="72.7" width="4.6" height="6.3" fill="#ef5350"/>
<path d="M718.17 68.6 V80.6" stroke="#26a69a" stroke-width="0.8"/>
<rect x="715.87" y="69.1" width="4.6" height="9.9" fill="#26a69a"/>
<path d="M724.23 65.7 V72.7" stroke="#26a69a" stroke-width="0.8"/>
<rect x="721.93" y="68" width="4.6" height="0.9" fill="#26a69a"/>
<path d="M730.28 55.1 V69.7" stroke="#26a69a" stroke-width="0.8"/>
<rect x="727.98" y="56" width="4.6" height="11.4" fill="#26a69a"/>
<path d="M736.34 50.9 V59.8" stroke="#ef5350" stroke-width="0.8"/>
<rect x="734.04" y="55.4" width="4.6" height="2.3" fill="#ef5350"/>
<path d="M742.4 54.1 V61.1" stroke="#26a69a" stroke-width="0.8"/>
<rect x="740.1" y="55.4" width="4.6" height="1.9" fill="#26a69a"/>
<path d="M748.45 54.7 V64.5" stroke="#ef5350" stroke-width="0.8"/>
<rect x="746.15" y="55.1" width="4.6" height="6.4" fill="#ef5350"/>
<path d="M754.51 55.1 V63" stroke="#26a69a" stroke-width="0.8"/>
<rect x="752.21" y="55.8" width="4.6" height="5.3" fill="#26a69a"/>
<path d="M760.57 49.7 V58.2" stroke="#ef5350" stroke-width="0.8"/>
<rect x="758.27" y="55.4" width="4.6" height="2.3" fill="#ef5350"/>
<path d="M766.62 57.3 V66.2" stroke="#ef5350" stroke-width="0.8"/>
<rect x="764.33" y="57.9" width="4.6" height="4.5" fill="#ef5350"/>
<path d="M772.68 61.7 V70" stroke="#ef5350" stroke-width="0.8"/>
<rect x="770.38" y="62.6" width="4.6" height="6.5" fill="#ef5350"/>
<path d="M778.74 62.4 V69.3" stroke="#26a69a" stroke-width="0.8"/>
<rect x="776.44" y="65.5" width="4.6" height="3.2" fill="#26a69a"/>
<path d="M784.8 58.6 V65.5" stroke="#26a69a" stroke-width="0.8"/>
<rect x="782.5" y="60.2" width="4.6" height="4.7" fill="#26a69a"/>
<path d="M790.85 56.9 V61.5" stroke="#ef5350" stroke-width="0.8"/>
<rect x="788.55" y="60.2" width="4.6" height="0.9" fill="#ef5350"/>
<path d="M796.91 59.8 V68.1" stroke="#ef5350" stroke-width="0.8"/>
<rect x="794.61" y="60.2" width="4.6" height="3.8" fill="#ef5350"/>
<path d="M802.97 47.8 V64.5" stroke="#26a69a" stroke-width="0.8"/>
<rect x="800.67" y="50.3" width="4.6" height="13.7" fill="#26a69a"/>
<path d="M809.02 47.1 V77" stroke="#ef5350" stroke-width="0.8"/>
<rect x="806.72" y="50.1" width="4.6" height="10.4" fill="#ef5350"/>
<path d="M815.08 59.4 V75.1" stroke="#ef5350" stroke-width="0.8"/>
<rect x="812.78" y="60.5" width="4.6" height="8.2" fill="#ef5350"/>
<path d="M821.14 60.5 V70.9" stroke="#26a69a" stroke-width="0.8"/>
<rect x="818.84" y="61.1" width="4.6" height="7.6" fill="#26a69a"/>
<path d="M827.2 59.2 V71.2" stroke="#ef5350" stroke-width="0.8"/>
<rect x="824.9" y="61.1" width="4.6" height="4.7" fill="#ef5350"/>
<path d="M833.25 65.3 V81.4" stroke="#ef5350" stroke-width="0.8"/>
<rect x="830.95" y="65.8" width="4.6" height="8" fill="#ef5350"/>
<path d="M839.31 70.2 V90.5" stroke="#ef5350" stroke-width="0.8"/>
<rect x="837.01" y="74" width="4.6" height="14.9" fill="#ef5350"/>
<path d="M845.37 86 V111" stroke="#ef5350" stroke-width="0.8"/>
<rect x="843.07" y="88.9" width="4.6" height="11.5" fill="#ef5350"/>
<path d="M851.42 90.5 V102.5" stroke="#26a69a" stroke-width="0.8"/>
<rect x="849.12" y="94.9" width="4.6" height="5.5" fill="#26a69a"/>
<path d="M857.48 88.6 V105" stroke="#26a69a" stroke-width="0.8"/>
<rect x="855.18" y="91.7" width="4.6" height="2.8" fill="#26a69a"/>
</g>
<path d="M293.7 122 L537.3 137 M302.2 155.4 L524.9 178.1" stroke="#131722" stroke-width="1.6" fill="none"/>
<rect x="6.5" y="381.4" width="960.2" height="27" fill="#f1edfa"/>
<g stroke="#e3e6f2" stroke-width="0.7">
<path d="M39.79 381.4 V408.4"/>
<path d="M94.3 381.4 V408.4"/>
<path d="M148.81 381.4 V408.4"/>
<path d="M203.32 381.4 V408.4"/>
<path d="M251.78 381.4 V408.4"/>
<path d="M306.29 381.4 V408.4"/>
<path d="M360.81 381.4 V408.4"/>
<path d="M409.26 381.4 V408.4"/>
<path d="M463.78 381.4 V408.4"/>
<path d="M518.29 381.4 V408.4"/>
<path d="M572.8 381.4 V408.4"/>
<path d="M621.26 381.4 V408.4"/>
<path d="M675.77 381.4 V408.4"/>
<path d="M730.28 381.4 V408.4"/>
<path d="M778.74 381.4 V408.4"/>
<path d="M833.25 381.4 V408.4"/>
<path d="M887.77 381.4 V408.4"/>
<path d="M936.22 381.4 V408.4"/>
<path d="M6.5 401.6 H966.7"/>
</g>
<defs><linearGradient id="gg" gradientUnits="userSpaceOnUse" x1="0" y1="361" x2="0" y2="381.4"><stop offset="0" stop-color="#4caf50" stop-opacity="0.9"/><stop offset="1" stop-color="#4caf50" stop-opacity="0.02"/></linearGradient><clipPath id="ob"><rect x="0" y="360" width="1024" height="21.4"/></clipPath></defs>
<polygon clip-path="url(#ob)" fill="url(#gg)" points="7.1,384.2 15,384.2 20.6,381.3 27.7,387.4 33.3,386.1 38.8,387.4 45.2,390.5 51.5,391.3 57.8,388.9 63.4,390.8 69.7,393.7 76,392.9 81.6,386.9 87.2,386.1 94.3,387.4 100.6,386.9 106.2,387.4 111,389.3 117.3,390.2 125.2,389.7 130.7,397.2 139.5,397.7 148.2,398.1 154.8,396.1 160.8,396.4 166.6,391.6 173,392.4 179,394.5 184.9,387.4 191.2,381 197.2,380.2 203.1,377.8 209.4,377.4 215.8,377.4 221.3,374.7 227.7,372.3 233.2,379 239.5,377.4 245.1,379.1 251.4,377.8 257.8,382.9 264.1,383.4 269.7,383.1 276,382.1 281.5,377.4 287.6,374.2 293.4,375.5 299.8,370.2 306.3,369.1 312.7,370.2 318.2,372.8 324.6,371.2 330.9,374.7 336.5,379.7 342,380.7 348.3,383.4 354.7,382.3 360.7,386.6 366.6,382.9 372.6,381.3 378.4,382.6 385.6,381.3 391.1,385.8 397,389.7 403,390.8 409.4,397.7 415.7,392.1 421.2,387.4 427.6,387 433.1,396.1 439.5,395.3 445.8,395.6 451.3,391.3 457.1,396.5 463.2,398.4 469,395.3 475.4,391.8 481.7,390.5 488,392.4 494,392.4 500.4,388.1 506.3,389.3 511.8,389.3 518.1,381.8 523.7,379 530,377.1 536.4,377.5 541.9,376.3 548.3,375.2 554.6,383.4 560.1,384.2 566.5,382.9 572.8,385.5 578.4,383.4 584.7,382.3 591,386.1 596.6,387.4 609.5,387 615,388.9 621.4,398.4 627,397.2 633.3,394.8 639.6,397.2 645.6,399.7 651.5,395.6 657.8,394.5 663.4,389.7 669.7,389.3 675.8,384.7 681.6,383.9 688,383.1 693.5,385.8 699.8,385.8 705.9,385.5 712.2,389.4 718.1,385.8 724.4,385.3 730,381.3 735.5,382.3 741.8,381.3 748.2,386.6 754.4,383.9 760.3,385.5 766.6,388.9 773,392.4 778.5,390.8 784.5,388.6 790.9,388.1 796.8,390.8 803.1,385.3 809,390.8 815,394.8 821,391.3 826.9,393.7 833.2,396.9 839.2,401.3 845.1,404.3 851.4,401.6 857.8,400.4 857.8,381.4 7.1,381.4"/>
<g stroke-width="0.8" stroke-dasharray="3.2 3" fill="none">
<path d="M6.5 381.4 H966.7" stroke="#787b86"/>
<path d="M6.5 408.4 H966.7" stroke="#a3a6af"/>
<path d="M6.5 394.4 H966.7" stroke="#b9bcc6"/>
</g>
<polyline points="7.1,392.4 14.3,390.5 22.2,388.6 31.7,387.8 47.5,387.4 63.4,387.7 79.2,387.8 95,388.1 111,388.9 126.8,389.7 142.6,390.8 150,391.3 165.8,392.4 181.7,393.7 191.2,392.9 203.9,391.3 213.4,389.3 226,385.8 238.7,382.6 251.4,380.7 260.9,379.4 276.8,379 292.6,378.2 300,377.8 309.5,377.1 323.8,376.3 339.6,375.9 355.5,375.9 371.3,377.1 382.4,377.8 395.1,380.7 407.8,383.9 420.4,386.1 434.7,387.7 450.6,389.7 462.7,392.1 475.4,393.2 489.6,393.7 505.5,393.7 513.4,393.2 526,390.5 538.7,387.7 551.4,385 564.1,383.7 576.8,382.6 587.9,381.3 600.6,381.5 612.7,383.4 625.4,386.6 639.6,388.9 655.5,391.3 671.3,392.4 687.2,391.8 701.4,391 714.1,389.3 726.8,387.4 739.5,385.5 752.1,384.5 760,385 765.8,385.3 778.5,386.2 791.2,386.6 802.3,386.2 813.4,387.7 826,389.3 838.7,391.3 851.4,393.7 857.8,394.5" fill="none" stroke="#f8e170" stroke-width="1.15" stroke-linejoin="round"/>
<polyline points="7.1,384.2 15,384.2 20.6,381.3 27.7,387.4 33.3,386.1 38.8,387.4 45.2,390.5 51.5,391.3 57.8,388.9 63.4,390.8 69.7,393.7 76,392.9 81.6,386.9 87.2,386.1 94.3,387.4 100.6,386.9 106.2,387.4 111,389.3 117.3,390.2 125.2,389.7 130.7,397.2 139.5,397.7 148.2,398.1 154.8,396.1 160.8,396.4 166.6,391.6 173,392.4 179,394.5 184.9,387.4 191.2,381 197.2,380.2 203.1,377.8 209.4,377.4 215.8,377.4 221.3,374.7 227.7,372.3 233.2,379 239.5,377.4 245.1,379.1 251.4,377.8 257.8,382.9 264.1,383.4 269.7,383.1 276,382.1 281.5,377.4 287.6,374.2 293.4,375.5 299.8,370.2 306.3,369.1 312.7,370.2 318.2,372.8 324.6,371.2 330.9,374.7 336.5,379.7 342,380.7 348.3,383.4 354.7,382.3 360.7,386.6 366.6,382.9 372.6,381.3 378.4,382.6 385.6,381.3 391.1,385.8 397,389.7 403,390.8 409.4,397.7 415.7,392.1 421.2,387.4 427.6,387 433.1,396.1 439.5,395.3 445.8,395.6 451.3,391.3 457.1,396.5 463.2,398.4 469,395.3 475.4,391.8 481.7,390.5 488,392.4 494,392.4 500.4,388.1 506.3,389.3 511.8,389.3 518.1,381.8 523.7,379 530,377.1 536.4,377.5 541.9,376.3 548.3,375.2 554.6,383.4 560.1,384.2 566.5,382.9 572.8,385.5 578.4,383.4 584.7,382.3 591,386.1 596.6,387.4 609.5,387 615,388.9 621.4,398.4 627,397.2 633.3,394.8 639.6,397.2 645.6,399.7 651.5,395.6 657.8,394.5 663.4,389.7 669.7,389.3 675.8,384.7 681.6,383.9 688,383.1 693.5,385.8 699.8,385.8 705.9,385.5 712.2,389.4 718.1,385.8 724.4,385.3 730,381.3 735.5,382.3 741.8,381.3 748.2,386.6 754.4,383.9 760.3,385.5 766.6,388.9 773,392.4 778.5,390.8 784.5,388.6 790.9,388.1 796.8,390.8 803.1,385.3 809,390.8 815,394.8 821,391.3 826.9,393.7 833.2,396.9 839.2,401.3 845.1,404.3 851.4,401.6 857.8,400.4" fill="none" stroke="#8661c9" stroke-width="1.0" stroke-linejoin="round"/>
<path d="M6.5 411.4 H1017.3" stroke="#9b9b9b" stroke-width="1.3"/>
<text x="7" y="14" font-size="8.6" fill="#131722" stroke="#131722" stroke-width="0.1" textLength="53.9" lengthAdjust="spacingAndGlyphs">Jake_Simmons</text>
<text x="65" y="14" font-size="8.6" fill="#131722" stroke="#131722" stroke-width="0.1" textLength="29.2" lengthAdjust="spacingAndGlyphs">created</text>
<text x="97.1" y="14" font-size="8.6" fill="#131722" stroke="#131722" stroke-width="0.1" textLength="16.1" lengthAdjust="spacingAndGlyphs">with</text>
<text x="116.2" y="14" font-size="8.6" fill="#131722" stroke="#131722" stroke-width="0.1" textLength="65" lengthAdjust="spacingAndGlyphs">TradingView.com,</text>
<text x="186" y="14" font-size="8.6" fill="#131722" stroke="#131722" stroke-width="0.1" textLength="13.6" lengthAdjust="spacingAndGlyphs">Dec</text>
<text x="202.2" y="14" font-size="8.6" fill="#131722" stroke="#131722" stroke-width="0.1" textLength="9.5" lengthAdjust="spacingAndGlyphs">04,</text>
<text x="217.4" y="14" font-size="8.6" fill="#131722" stroke="#131722" stroke-width="0.1" textLength="16.8" lengthAdjust="spacingAndGlyphs">2025</text>
<text x="237.8" y="14" font-size="8.6" fill="#131722" stroke="#131722" stroke-width="0.1" textLength="20" lengthAdjust="spacingAndGlyphs">08:49</text>
<text x="261.2" y="14" font-size="8.6" fill="#131722" stroke="#131722" stroke-width="0.1" textLength="22.3" lengthAdjust="spacingAndGlyphs">UTC-5</text>
<text x="12.7" y="33" font-size="7.9" fill="#2a2e39" stroke="#2a2e39" stroke-width="0.1" textLength="25.4" lengthAdjust="spacingAndGlyphs">Bitcoin</text>
<text x="41.2" y="33" font-size="7.9" fill="#2a2e39" stroke="#2a2e39" stroke-width="0.1" textLength="3.2" lengthAdjust="spacingAndGlyphs">/</text>
<text x="48.9" y="33" font-size="7.9" fill="#2a2e39" stroke="#2a2e39" stroke-width="0.1" textLength="32.3" lengthAdjust="spacingAndGlyphs">TetherUS</text>
<text x="85.5" y="33" font-size="7.9" fill="#2a2e39" stroke="#2a2e39" stroke-width="0.1">·</text>
<text x="90.7" y="33" font-size="7.9" fill="#2a2e39" stroke="#2a2e39" stroke-width="0.1" textLength="9.6" lengthAdjust="spacingAndGlyphs">1W</text>
<text x="104.5" y="33" font-size="7.9" fill="#2a2e39" stroke="#2a2e39" stroke-width="0.1">·</text>
<text x="111" y="33" font-size="7.9" fill="#2a2e39" stroke="#2a2e39" stroke-width="0.1" textLength="29" lengthAdjust="spacingAndGlyphs">Binance</text>
<text x="145.9" y="33" font-size="7.9" fill="#2a2e39" stroke="#2a2e39" stroke-width="0.1" textLength="4.9" lengthAdjust="spacingAndGlyphs">O</text>
<text x="151.8" y="33" font-size="7.9" fill="#8c8f99" stroke="#8c8f99" stroke-width="0.1" textLength="36.4" lengthAdjust="spacingAndGlyphs">90,360.01</text>
<text x="194.2" y="33" font-size="7.9" fill="#2a2e39" stroke="#2a2e39" stroke-width="0.1" textLength="4.7" lengthAdjust="spacingAndGlyphs">H</text>
<text x="199.7" y="33" font-size="7.9" fill="#8c8f99" stroke="#8c8f99" stroke-width="0.1" textLength="36.8" lengthAdjust="spacingAndGlyphs">94,150.00</text>
<text x="242.8" y="33" font-size="7.9" fill="#2a2e39" stroke="#2a2e39" stroke-width="0.1" textLength="3.2" lengthAdjust="spacingAndGlyphs">L</text>
<text x="246.6" y="33" font-size="7.9" fill="#8c8f99" stroke="#8c8f99" stroke-width="0.1" textLength="36.9" lengthAdjust="spacingAndGlyphs">83,822.76</text>
<text x="289.5" y="33" font-size="7.9" fill="#2a2e39" stroke="#2a2e39" stroke-width="0.1" textLength="4.3" lengthAdjust="spacingAndGlyphs">C</text>
<text x="294.6" y="33" font-size="7.9" fill="#8c8f99" stroke="#8c8f99" stroke-width="0.1" textLength="37.1" lengthAdjust="spacingAndGlyphs">92,494.00</text>
<text x="337.4" y="33" font-size="7.9" fill="#8c8f99" stroke="#8c8f99" stroke-width="0.1" textLength="71.9" lengthAdjust="spacingAndGlyphs">+2,134.00 (+2.36%)</text>
<text x="12.7" y="44.7" font-size="7.9" fill="#2a2e39" stroke="#2a2e39" stroke-width="0.1" textLength="10.8" lengthAdjust="spacingAndGlyphs">Vol</text>
<text x="26.5" y="44.7" font-size="7.9" fill="#2a2e39" stroke="#2a2e39" stroke-width="0.1">·</text>
<text x="32.7" y="44.7" font-size="7.9" fill="#2a2e39" stroke="#2a2e39" stroke-width="0.1" textLength="14" lengthAdjust="spacingAndGlyphs">BTC</text>
<text x="52.3" y="44.7" font-size="7.9" fill="#26a69a" stroke="#26a69a" stroke-width="0.1" textLength="20" lengthAdjust="spacingAndGlyphs">98.84</text>
<text x="74.9" y="44.7" font-size="7.9" fill="#26a69a" stroke="#26a69a" stroke-width="0.1" textLength="4.4" lengthAdjust="spacingAndGlyphs">K</text>
<text x="12.7" y="56.1" font-size="7.9" fill="#2a2e39" stroke="#2a2e39" stroke-width="0.1" textLength="15.9" lengthAdjust="spacingAndGlyphs">EMA</text>
<text x="31.3" y="56.1" font-size="7.9" fill="#2a2e39" stroke="#2a2e39" stroke-width="0.1" textLength="56.3" lengthAdjust="spacingAndGlyphs">20/50/100/200</text>
<text x="94.2" y="56.1" font-size="7.9" fill="#ff2020" stroke="#ff2020" stroke-width="0.1" textLength="41.3" lengthAdjust="spacingAndGlyphs">104,252.18</text>
<text x="140.9" y="56.1" font-size="7.9" fill="#ff9800" stroke="#ff9800" stroke-width="0.1" textLength="37.1" lengthAdjust="spacingAndGlyphs">99,538.07</text>
<text x="183.8" y="56.1" font-size="7.9" fill="#1fe5ff" stroke="#1fe5ff" stroke-width="0.1" textLength="36.8" lengthAdjust="spacingAndGlyphs">85,716.08</text>
<text x="226.3" y="56.1" font-size="7.9" fill="#1e1eff" stroke="#1e1eff" stroke-width="0.1" textLength="37.5" lengthAdjust="spacingAndGlyphs">66,358.44</text>
<rect x="11.7" y="373.6" width="55.1" height="9.4" fill="#fff" opacity="0.8"/>
<rect x="71.1" y="373.6" width="21.3" height="9.4" fill="#fff" opacity="0.8"/>
<rect x="97.3" y="373.6" width="22.2" height="9.4" fill="#fff" opacity="0.8"/>
<rect x="124.2" y="373.6" width="9.1" height="9.4" fill="#fff" opacity="0.8"/>
<rect x="136.9" y="373.6" width="9.1" height="9.4" fill="#fff" opacity="0.8"/>
<text x="12.7" y="381.4" font-size="7.9" fill="#2a2e39" stroke="#2a2e39" stroke-width="0.1" textLength="10.3" lengthAdjust="spacingAndGlyphs">RSI</text>
<text x="26.1" y="381.4" font-size="7.9" fill="#2a2e39" stroke="#2a2e39" stroke-width="0.1" textLength="13.5" lengthAdjust="spacingAndGlyphs">(14,</text>
<text x="43.6" y="381.4" font-size="7.9" fill="#2a2e39" stroke="#2a2e39" stroke-width="0.1" textLength="22.2" lengthAdjust="spacingAndGlyphs">close)</text>
<text x="72.1" y="381.4" font-size="7.9" fill="#7e57c2" stroke="#7e57c2" stroke-width="0.1" textLength="19.3" lengthAdjust="spacingAndGlyphs">40.81</text>
<text x="98.3" y="381.4" font-size="7.9" fill="#f4d84a" stroke="#f4d84a" stroke-width="0.1" textLength="20.2" lengthAdjust="spacingAndGlyphs">50.50</text>
<text x="125.2" y="381.4" font-size="8.6" fill="#50535e" stroke="#50535e" stroke-width="0.1" textLength="7.1" lengthAdjust="spacingAndGlyphs">∅</text>
<text x="137.9" y="381.4" font-size="8.6" fill="#50535e" stroke="#50535e" stroke-width="0.1" textLength="7.1" lengthAdjust="spacingAndGlyphs">∅</text>
<text x="32.99" y="424.2" font-size="8.2" fill="#333743" stroke="#333743" stroke-width="0.1" textLength="13.6" lengthAdjust="spacingAndGlyphs">May</text>
<text x="89.55" y="424.2" font-size="8.2" fill="#333743" stroke="#333743" stroke-width="0.1" textLength="9.5" lengthAdjust="spacingAndGlyphs">Jul</text>
<text x="142.56" y="424.2" font-size="8.2" fill="#333743" stroke="#333743" stroke-width="0.1" textLength="12.5" lengthAdjust="spacingAndGlyphs">Sep</text>
<text x="196.72" y="424.2" font-size="8.2" fill="#333743" stroke="#333743" stroke-width="0.1" textLength="13.2" lengthAdjust="spacingAndGlyphs">Nov</text>
<text x="243.08" y="424.2" font-size="8.2" fill="#333743" stroke="#333743" stroke-width="0.1" font-weight="bold" textLength="17.4" lengthAdjust="spacingAndGlyphs">2024</text>
<text x="300.19" y="424.2" font-size="8.2" fill="#333743" stroke="#333743" stroke-width="0.1" textLength="12.2" lengthAdjust="spacingAndGlyphs">Mar</text>
<text x="354.01" y="424.2" font-size="8.2" fill="#333743" stroke="#333743" stroke-width="0.1" textLength="13.6" lengthAdjust="spacingAndGlyphs">May</text>
<text x="404.51" y="424.2" font-size="8.2" fill="#333743" stroke="#333743" stroke-width="0.1" textLength="9.5" lengthAdjust="spacingAndGlyphs">Jul</text>
<text x="457.53" y="424.2" font-size="8.2" fill="#333743" stroke="#333743" stroke-width="0.1" textLength="12.5" lengthAdjust="spacingAndGlyphs">Sep</text>
<text x="511.69" y="424.2" font-size="8.2" fill="#333743" stroke="#333743" stroke-width="0.1" textLength="13.2" lengthAdjust="spacingAndGlyphs">Nov</text>
<text x="564.1" y="424.2" font-size="8.2" fill="#333743" stroke="#333743" stroke-width="0.1" font-weight="bold" textLength="17.4" lengthAdjust="spacingAndGlyphs">2025</text>
<text x="615.16" y="424.2" font-size="8.2" fill="#333743" stroke="#333743" stroke-width="0.1" textLength="12.2" lengthAdjust="spacingAndGlyphs">Mar</text>
<text x="668.97" y="424.2" font-size="8.2" fill="#333743" stroke="#333743" stroke-width="0.1" textLength="13.6" lengthAdjust="spacingAndGlyphs">May</text>
<text x="725.53" y="424.2" font-size="8.2" fill="#333743" stroke="#333743" stroke-width="0.1" textLength="9.5" lengthAdjust="spacingAndGlyphs">Jul</text>
<text x="772.49" y="424.2" font-size="8.2" fill="#333743" stroke="#333743" stroke-width="0.1" textLength="12.5" lengthAdjust="spacingAndGlyphs">Sep</text>
<text x="826.65" y="424.2" font-size="8.2" fill="#333743" stroke="#333743" stroke-width="0.1" textLength="13.2" lengthAdjust="spacingAndGlyphs">Nov</text>
<text x="879.07" y="424.2" font-size="8.2" fill="#333743" stroke="#333743" stroke-width="0.1" font-weight="bold" textLength="17.4" lengthAdjust="spacingAndGlyphs">2026</text>
<text x="930.12" y="424.2" font-size="8.2" fill="#333743" stroke="#333743" stroke-width="0.1" textLength="12.2" lengthAdjust="spacingAndGlyphs">Mar</text>
<text x="972.8" y="45.6" font-size="7.5" fill="#2a2e39" stroke="#2a2e39" stroke-width="0.1" textLength="37.8" lengthAdjust="spacingAndGlyphs">130,000.00</text>
<text x="972.8" y="69.1" font-size="7.5" fill="#2a2e39" stroke="#2a2e39" stroke-width="0.1" textLength="37.8" lengthAdjust="spacingAndGlyphs">110,000.00</text>
<text x="972.8" y="123.6" font-size="7.5" fill="#2a2e39" stroke="#2a2e39" stroke-width="0.1" textLength="33.9" lengthAdjust="spacingAndGlyphs">75,000.00</text>
<text x="972.8" y="148.2" font-size="7.5" fill="#2a2e39" stroke="#2a2e39" stroke-width="0.1" textLength="33.9" lengthAdjust="spacingAndGlyphs">63,000.00</text>
<text x="972.8" y="178.3" font-size="7.5" fill="#2a2e39" stroke="#2a2e39" stroke-width="0.1" textLength="33.9" lengthAdjust="spacingAndGlyphs">51,000.00</text>
<text x="972.8" y="200.9" font-size="7.5" fill="#2a2e39" stroke="#2a2e39" stroke-width="0.1" textLength="33.9" lengthAdjust="spacingAndGlyphs">43,500.00</text>
<text x="972.8" y="221.9" font-size="7.5" fill="#2a2e39" stroke="#2a2e39" stroke-width="0.1" textLength="33.9" lengthAdjust="spacingAndGlyphs">37,500.00</text>
<text x="972.8" y="246.6" font-size="7.5" fill="#2a2e39" stroke="#2a2e39" stroke-width="0.1" textLength="33.9" lengthAdjust="spacingAndGlyphs">31,500.00</text>
<text x="972.8" y="276.6" font-size="7.5" fill="#2a2e39" stroke="#2a2e39" stroke-width="0.1" textLength="33.9" lengthAdjust="spacingAndGlyphs">25,500.00</text>
<text x="972.8" y="300.9" font-size="7.5" fill="#2a2e39" stroke="#2a2e39" stroke-width="0.1" textLength="33.9" lengthAdjust="spacingAndGlyphs">21,500.00</text>
<text x="972.8" y="322.2" font-size="7.5" fill="#2a2e39" stroke="#2a2e39" stroke-width="0.1" textLength="33.9" lengthAdjust="spacingAndGlyphs">18,500.00</text>
<text x="972.8" y="345.4" font-size="7.5" fill="#2a2e39" stroke="#2a2e39" stroke-width="0.1" textLength="33.9" lengthAdjust="spacingAndGlyphs">15,700.00</text>
<text x="972.8" y="366.8" font-size="7.5" fill="#2a2e39" stroke="#2a2e39" stroke-width="0.1" textLength="33.9" lengthAdjust="spacingAndGlyphs">13,500.00</text>
<text x="973.2" y="377.55" font-size="7.5" fill="#2a2e39" stroke="#2a2e39" stroke-width="0.1" textLength="18.7" lengthAdjust="spacingAndGlyphs">80.00</text>
<text x="973.2" y="404.45" font-size="7.5" fill="#2a2e39" stroke="#2a2e39" stroke-width="0.1" textLength="18.7" lengthAdjust="spacingAndGlyphs">40.00</text>
<rect x="967.3" y="19.3" width="49.6" height="23" fill="#fff"/>
<rect x="969.4" y="21.6" width="45.3" height="17.8" rx="3" fill="#fff" stroke="#eef0f5" stroke-width="0.8"/>
<text x="975.7" y="33.1" font-size="8.6" fill="#131722" stroke="#131722" stroke-width="0.1" textLength="19" lengthAdjust="spacingAndGlyphs">USDT</text>
<text x="875.2" y="49.9" font-size="8.6" fill="#787b86" stroke="#787b86" stroke-width="0.1" textLength="55" lengthAdjust="spacingAndGlyphs">0 (126,199.00)</text>
<text x="875.2" y="64.3" font-size="8.6" fill="#f23645" stroke="#f23645" stroke-width="0.1" textLength="71.7" lengthAdjust="spacingAndGlyphs">0.236 (114,017.47)</text>
<text x="875.2" y="74.1" font-size="8.6" fill="#ff9800" stroke="#ff9800" stroke-width="0.1" textLength="71.7" lengthAdjust="spacingAndGlyphs">0.382 (106,481.45)</text>
<text x="875.2" y="82.4" font-size="8.6" fill="#4caf50" stroke="#4caf50" stroke-width="0.1" textLength="62.5" lengthAdjust="spacingAndGlyphs">0.5 (100,390.68)</text>
<text x="875.2" y="91.4" font-size="8.6" fill="#089981" stroke="#089981" stroke-width="0.1" textLength="54.5" lengthAdjust="spacingAndGlyphs">0.618 (94,299.</text>
<text x="875.2" y="104.9" font-size="8.6" fill="#00bcd4" stroke="#00bcd4" stroke-width="0.1" textLength="67" lengthAdjust="spacingAndGlyphs">0.786 (85,628.33)</text>
<text x="875.2" y="124.3" font-size="8.6" fill="#787b86" stroke="#787b86" stroke-width="0.1" textLength="50.7" lengthAdjust="spacingAndGlyphs">1 (74,582.37)</text>
<text x="875.2" y="154.1" font-size="8.6" fill="#ff9800" stroke="#ff9800" stroke-width="0.1" textLength="67" lengthAdjust="spacingAndGlyphs">1.272 (60,542.64)</text>
<text x="875.2" y="172.4" font-size="8.6" fill="#f23645" stroke="#f23645" stroke-width="0.1" textLength="67" lengthAdjust="spacingAndGlyphs">1.414 (53,213.08)</text>
<text x="875.2" y="203.5" font-size="8.6" fill="#2962ff" stroke="#2962ff" stroke-width="0.1" textLength="67" lengthAdjust="spacingAndGlyphs">1.618 (42,683.29)</text>
<path d="M931.6 85.7 H966.7 V96.6 H931.6 Q929.6 96.6 929.6 94.6 V87.7 Q929.6 85.7 931.6 85.7 Z" fill="#26a69a"/>
<path d="M966.7 85.7 H1007.8 Q1009.8 85.7 1009.8 87.7 V103.8 Q1009.8 105.8 1007.8 105.8 H966.7 Z" fill="#26a69a"/>
<text x="932.3" y="94.5" font-size="8.0" fill="#fff" stroke="#fff" stroke-width="0.1" textLength="30.4" lengthAdjust="spacingAndGlyphs">BTCUSDT</text>
<text x="973.2" y="94" font-size="7.6" fill="#fff" stroke="#fff" stroke-width="0.1" textLength="33.5" lengthAdjust="spacingAndGlyphs">92,494.00</text>
<text x="973.2" y="103.1" font-size="7.6" fill="#d6efec" stroke="#d6efec" stroke-width="0.1" textLength="21.8" lengthAdjust="spacingAndGlyphs">3d 11h</text>
<path d="M966.7 18.8 V430.4" stroke="#50535e" stroke-width="0.8"/>
<g fill="#0c0e12">
<path d="M8.25 446.3 H16.5 V456.5 H12.1 V451 H8.25 Z"/>
<circle cx="20.1" cy="448.4" r="2"/>
<path d="M24.1 446.3 H29.5 L25.4 456.5 H20.1 Z"/>
</g>
<text x="34.3" y="456.5" font-size="14.8" fill="#0c0e12" stroke="#0c0e12" stroke-width="0.1" textLength="85" lengthAdjust="spacingAndGlyphs" style="stroke-width:0.7px">TradingView</text>
</svg>
</body></html>
